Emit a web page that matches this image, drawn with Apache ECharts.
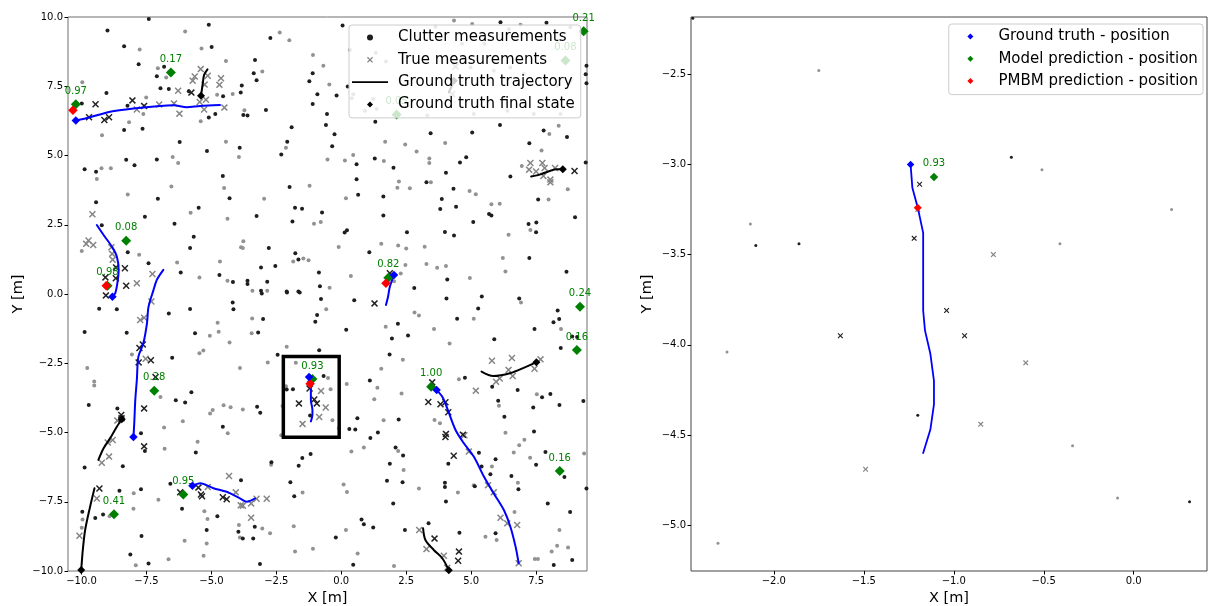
<!DOCTYPE html>
<html>
<head>
<meta charset="utf-8">
<script src="https://cdn.jsdelivr.net/npm/echarts@6/dist/echarts.min.js"></script>
<style>
  html, body { margin: 0; padding: 0; background: #fff; }
  #chart { width: 1208px; height: 606px; }
</style>
</head>
<body>
<div id="chart"></div>
<script>
// ---- tick labels ----
const leftXTicks = [-10, -7.5, -5, -2.5, 0, 2.5, 5, 7.5];
const leftYTicks = [-10, -7.5, -5, -2.5, 0, 2.5, 5, 7.5, 10];
const rightXTicks = [-2, -1.5, -1, -0.5, 0];
const rightYTicks = [-5, -4.5, -4, -3.5, -3, -2.5];

// ---- clutter measurements (dark = recent, light = older) ----
const clutterDark = [
  [-7.41,9.93],[-9.00,9.51],[-5.10,9.72],[-8.36,8.94],[-4.99,8.92],[-7.80,8.29],[-6.82,8.20],[-7.10,7.86],[-9.04,7.26],[-6.96,7.43],
  [-6.64,7.40],[-5.87,7.32],[-4.55,7.14],[-3.87,7.27],[-3.83,7.53],[-9.99,6.88],[-8.23,6.80],[-5.10,6.37],[-4.85,6.50],[-8.36,5.92],
  [-7.65,5.97],[-6.22,5.49],[-3.91,5.28],[-5.17,5.16],[-8.28,4.85],[-7.10,4.86],[-7.96,4.65],[-9.88,4.50],[-9.44,4.41],[-4.56,4.26],
  [-7.06,3.44],[-4.30,3.46],[-9.44,3.31],[-5.49,3.11],[-7.56,2.79],[-6.42,2.54],[-9.22,2.48],[-5.68,2.07],[-5.82,1.66],[-8.22,1.51],
  [-7.42,1.11],[-6.18,0.78],[-4.69,0.69],[-4.17,0.43],
  [0.05,9.69],[-2.73,9.24],[-3.32,8.45],[-3.37,7.97],[-3.26,7.72],[-1.10,7.97],[-1.23,7.68],[-0.92,7.21],[-0.18,7.17],[0.25,7.49],
  [-1.10,6.86],[-2.90,6.64],[-3.77,6.46],[-3.61,6.44],[-0.55,6.50],[-1.91,6.02],[-0.59,6.10],[1.31,6.22],[-0.26,5.77],[-2.08,5.50],
  [-2.31,5.04],[-0.35,5.33],[1.29,4.89],[0.59,4.68],[2.01,4.56],[-1.99,3.86],[0.59,4.14],[0.65,3.58],[1.62,3.52],[-1.78,3.11],
  [-1.51,3.08],[-1.88,2.62],[-0.74,2.94],[-3.26,2.82],[1.62,2.83],[0.13,2.22],[0.22,2.30],[2.53,2.23],[1.08,1.51],[-1.77,1.47],
  [-1.65,1.25],[-2.79,1.66],[-2.54,1.01],[-3.09,0.96],[-3.61,0.48],[-3.61,0.36],[-2.85,0.44],[-3.09,0.12],[-2.10,0.09],[-1.65,0.09],
  [-0.86,0.78],[-0.82,0.28],[2.81,0.22],
  [6.13,9.81],[7.90,9.79],[6.11,6.10],[3.44,5.80],[5.04,5.83],[7.79,5.90],[8.69,5.67],[7.24,5.44],[4.81,4.94],[4.57,4.75],
  [4.03,4.38],[6.51,4.24],[4.32,3.80],[3.28,4.03],[3.87,3.43],[3.81,3.07],[4.42,3.15],[7.58,3.41],[5.69,2.89],[5.78,2.83],
  [9.00,2.77],[5.08,2.60],[7.21,2.53],[7.51,2.58],[7.50,2.23],[3.99,2.24],[4.34,2.11],[7.24,1.30],[4.08,0.52],[8.67,0.80],
  [9.44,8.24],[9.41,7.93],[9.44,7.61],[9.41,4.75],
  [-9.32,-0.53],[-8.64,-0.55],[-9.88,-1.37],[-8.26,-1.40],[-6.64,-0.70],[-5.82,-0.54],[-4.18,-0.31],[-4.15,-0.55],[-5.63,-1.42],[-6.51,-2.30],
  [-5.77,-3.55],[-6.37,-3.84],[-6.01,-3.92],[-8.62,-4.13],[-9.72,-4.01],[-4.56,-4.79],[-7.71,-5.03],[-7.56,-5.67],[-5.60,-5.72],[-9.88,-6.26],
  [-8.41,-6.22],[-7.71,-7.05],[-8.54,-7.10],[-6.58,-6.85],[-6.13,-7.75],[-9.17,-7.96],[-9.47,-8.09],[-9.97,-7.86],[-7.69,-8.74],[-5.18,-8.52],
  [-3.96,-8.58],[-8.12,-9.40],[-7.42,-9.73],[-4.77,-8.02],
  [-3.06,0.02],[-2.09,0.05],[-1.60,0.05],[-0.78,-0.18],[0.50,-0.23],[-3.01,-0.90],[-0.93,-0.76],[-1.00,-1.00],[-3.20,-1.39],[0.19,-1.29],
  [2.18,-1.07],[2.57,-1.50],[1.95,-1.61],[-0.85,-2.03],[1.86,-2.18],[-3.24,-4.07],[-3.12,-4.29],[1.10,-3.12],[0.54,-4.89],[0.62,-4.49],
  [2.21,-4.53],[1.12,-5.20],[1.41,-5.00],[2.09,-5.54],[2.38,-5.83],[1.87,-6.13],[-1.64,-6.20],[-2.69,-6.07],[-3.86,-6.72],[-1.96,-6.80],
  [1.76,-6.74],[2.36,-6.80],[2.00,-7.56],[-1.81,-7.30],[0.78,-8.14],[0.87,-8.31],[1.23,-8.43],[2.45,-8.52],[-0.21,-8.79],[-3.33,-8.40],
  [-3.39,-8.83],[-3.79,-8.83],[-3.13,-9.75],[0.46,-9.77],[-1.50,-5.92],[-1.18,-5.78],
  [4.05,-0.16],[5.41,-0.09],[6.85,-0.16],[5.27,-0.52],[4.46,-0.89],[8.33,-0.60],[8.17,-1.02],[8.39,-0.90],[7.44,-1.26],[5.89,-1.63],
  [8.89,-1.53],[9.08,-1.55],[8.45,-1.95],[4.76,-3.02],[5.81,-3.35],[6.79,-3.47],[8.05,-3.61],[7.73,-3.73],[6.04,-3.85],[7.39,-4.10],
  [8.40,-4.01],[9.32,-3.86],[6.28,-4.43],[7.42,-4.96],[7.86,-5.70],[5.30,-5.73],[5.94,-5.97],[5.40,-6.23],[4.12,-6.13],[6.55,-6.57],
  [5.74,-6.51],[6.82,-7.05],[3.99,-6.81],[3.99,-6.97],[5.14,-6.94],[7.50,-6.16],[8.59,-6.61],[7.95,-7.56],[9.44,-7.02],[8.81,-7.87],
  [8.18,-9.78],[8.89,-9.60],[4.55,-8.62],[5.94,-8.64],[4.03,-7.49],[3.36,-8.28],
  [-2.45,-2.19],[-0.68,-2.96],[-2.10,-3.45],[-1.86,-3.44],[-1.20,-4.39],[0.31,-4.87]
];
const clutterLight = [
  [-6.01,9.48],[-7.76,8.83],[-5.38,8.86],[-4.44,8.41],[-7.06,8.15],[-6.74,7.82],[-9.97,7.64],[-4.78,7.19],[-4.18,7.22],[-7.51,7.09],
  [-7.62,6.50],[-5.41,6.24],[-8.17,6.20],[-9.21,5.73],[-4.44,5.50],[-3.94,4.95],[-6.49,4.95],[-6.28,4.73],[-9.23,4.54],[-8.87,4.54],
  [-9.41,4.15],[-4.51,3.83],[-6.54,3.88],[-8.22,3.59],[-5.80,2.93],[-4.38,2.72],[-9.99,1.55],[-7.78,1.42],[-6.32,1.14],[-4.67,1.17],
  [-3.86,1.69],[-5.46,0.60],[-4.38,0.48],
  [-2.37,9.44],[-2.00,9.16],[-1.09,8.63],[-0.69,8.24],[-3.04,8.03],[-0.46,7.56],[-3.73,6.63],[-2.13,5.28],[1.69,5.50],[2.46,5.40],
  [-0.53,4.86],[0.14,4.82],[0.46,5.02],[1.64,4.80],[-1.22,3.91],[2.22,4.06],[2.16,3.84],[2.64,3.82],[-2.97,3.44],[0.18,3.46],
  [-1.05,2.54],[-0.79,2.60],[-0.10,1.70],[1.54,1.81],[2.19,1.75],[2.50,1.64],[-3.77,1.90],[-3.79,1.66],[-1.85,1.17],[-1.46,1.28],
  [-1.26,1.22],[0.37,0.65],[2.29,0.74],[2.47,1.05],[-3.42,0.12],[-2.85,0.12],[-0.45,0.23],[2.03,0.46],
  [4.34,9.87],[4.00,5.45],[2.90,5.14],[3.39,4.89],[3.39,4.73],[6.95,4.62],[7.71,5.18],[8.01,5.78],[8.37,6.07],[8.72,3.78],
  [4.94,3.72],[5.18,3.60],[5.78,3.24],[6.10,3.26],[7.98,3.41],[3.45,4.03],[6.44,2.14],[7.28,2.31],[3.21,1.71],[3.28,1.08],
  [3.69,0.95],[4.03,1.01],[6.22,1.30],[6.32,0.81],[4.95,0.58],
  [3.63,9.65],[5.04,9.75],[6.45,9.57],[6.90,9.72],[8.82,9.63],[4.65,9.03],[5.51,9.03],[4.98,8.18],[5.87,8.06],[6.51,8.18],
  [7.03,7.94],[8.31,7.52],[8.82,7.70],[3.31,6.44],[5.10,6.50],[6.39,6.62],[7.41,6.50],[8.44,6.50],[0.33,8.81],[1.33,8.71],
  [1.72,8.39],[0.46,7.21],[0.40,7.07],[1.36,6.68],[1.23,7.04],[0.91,6.62],
  [-4.76,-1.04],[-4.72,-1.36],[-4.30,-1.75],[-5.06,-1.51],[-5.46,-2.14],[-5.31,-2.04],[-8.06,-2.18],[-9.78,-2.67],[-9.51,-3.16],[-9.51,-3.30],
  [-6.96,-3.72],[-4.53,-4.02],[-4.26,-4.09],[-4.95,-4.19],[-5.05,-4.31],[-3.90,-2.67],[-6.10,-4.59],[-6.82,-4.82],[-6.80,-5.59],[-5.53,-5.33],
  [-4.37,-5.03],[-7.99,-7.19],[-7.04,-7.43],[-8.00,-7.75],[-5.27,-7.84],[-5.15,-8.12],[-8.92,-8.02],[-6.03,-8.91],[-5.18,-9.01],[-5.30,-9.45],
  [-6.65,-9.58],[-7.91,-9.79],[-3.90,-8.79],[-9.96,-8.14],[-9.99,-8.44],[-3.94,-8.34],
  [-3.43,-0.88],[-0.58,-0.55],[-3.45,-1.42],[-2.10,-1.90],[-2.83,-2.47],[1.71,-1.18],[2.37,-2.37],[1.54,-2.70],[2.32,-3.59],[1.27,-3.80],
  [1.39,-3.38],[1.63,-4.56],[-3.79,-4.17],[0.39,-5.69],[0.87,-5.54],[2.19,-5.67],[2.40,-6.35],[0.09,-6.88],[0.22,-7.15],[-1.49,-7.17],
  [-2.70,-6.16],[-1.83,-8.38],[0.18,-8.52],[-3.04,-8.47],[-2.74,-8.64],[-1.78,-9.30],[-1.09,-9.20],[0.63,-9.37],[2.03,-9.82],[2.82,-0.67],
  [2.99,-0.78],[3.57,-1.26],[4.17,-1.79],[5.10,-0.89],[6.92,-0.31],[8.46,-1.26],[4.53,-3.08],[6.07,-4.03],[7.53,-3.62],[6.32,-5.01],
  [6.64,-5.72],[7.05,-5.26],[6.85,-5.46],[7.27,-5.91],[9.35,-5.76],[5.80,-6.23],[5.10,-6.90],[6.80,-6.81],[2.99,-7.02],[4.49,-7.17],
  [6.67,-7.87],[5.55,-8.76],[5.98,-8.88],[8.31,-9.09],[8.10,-9.30],[8.40,-8.52],[8.73,-9.15],[7.45,-9.57],[7.57,-9.57],[3.59,-4.55],
  [3.80,-4.67],
  [-1.75,-2.48],[-0.51,-3.03],[0.21,-3.25],[-2.13,-3.33],[-0.41,-3.44],[-2.26,-4.04],[-0.34,-4.56],[-0.09,-4.85],[-2.31,-5.10]
];

// ---- target-generated measurements ----
const measDark = [
  [-9.46,6.85],[-9.71,6.38],[-9.12,6.28],[-8.94,6.38],[-8.04,6.99],[-7.59,6.79],[-5.77,7.27],[-8.67,0.96],[-8.33,0.93],[-8.68,0.57],
  [-9.08,0.60],[-8.28,0.30],[-9.06,-0.05],[-7.77,-1.95],[-7.64,-1.82],[-7.80,-2.47],[-7.33,-2.39],[-7.15,-3.00],[-7.59,-4.13],[-7.59,-5.50],
  [-8.47,-4.37],[-8.46,-4.49],[-9.31,-7.02],[-6.20,-7.16],[-5.50,-6.99],[-5.40,-7.24],[-5.36,-7.30],[-4.56,-7.34],[-4.41,-7.41],
  [1.28,-0.34],[1.87,0.75],[3.50,-3.19],[3.35,-3.90],[3.82,-3.98],[4.01,-3.91],[4.12,-4.27],[4.03,-5.05],[4.01,-5.16],[4.33,-5.84],
  [4.68,-5.08],[3.59,-8.83],[4.53,-9.30],[4.50,-9.63],[8.98,4.44],
  [-1.19,-3.11],[-1.22,-3.41],[-1.04,-3.81],[-1.63,-3.95],[-0.94,-3.95]
];
const measLight = [
  [-7.87,6.66],[-7.01,6.84],[-6.44,6.88],[-6.23,6.51],[-6.28,7.34],[-5.72,7.70],[-5.64,7.85],[-5.41,8.12],[-5.26,7.56],[-5.14,7.88],
  [-5.45,6.93],[-5.21,7.01],[-5.28,6.66],[-4.69,7.55],[-4.63,7.79],[-4.50,6.73],[-9.58,2.88],[-9.73,1.93],[-9.55,1.77],[-9.82,1.81],
  [-8.85,1.69],[-8.82,1.45],[-8.80,1.24],[-7.87,0.39],[-7.27,0.72],
  [-7.74,-0.94],[-7.59,-0.86],[-7.31,-0.27],[-7.53,-2.34],[-8.99,-5.36],[-8.80,-5.27],[-8.94,-5.87],[-9.22,-6.09],[-8.62,-4.57],[-4.32,-6.57],
  [-4.06,-7.16],[-5.14,-6.97],[-3.87,-7.63],[-10.08,-8.73],[-9.41,-7.38],
  [-3.26,-7.39],[-2.87,-7.39],[-3.47,-7.56],[-3.79,-7.64],[-3.47,-8.08],
  [7.28,4.73],[7.23,4.49],[7.50,4.42],[7.74,4.73],[7.83,4.55],[7.78,4.26],[8.05,4.13],[8.05,4.03],[8.23,4.55],
  [5.80,-2.41],[6.57,-2.31],[6.44,-2.74],[6.60,-2.96],[5.96,-3.17],[6.10,-3.05],[7.44,-2.70],[7.67,-2.36],[5.18,-3.49],
  [3.00,-8.52],[3.28,-9.21],[3.95,-9.45],[4.08,-9.88],[4.74,-5.10],[4.91,-5.69],[5.65,-6.90],[5.87,-7.16],[6.13,-8.08],[6.39,-8.28],
  [6.77,-8.34],[6.83,-9.72],[4.40,8.21],[4.27,7.22],
  [-0.78,-3.50],[-1.20,-3.25],[-0.60,-4.10],[-0.85,-4.44],[-1.49,-4.69]
];

// ---- ground truth trajectories of undetected targets (black) ----
const truthTracks = [
  [[-5.15,8.11],[-5.28,7.91],[-5.33,7.61],[-5.40,7.16]],
  [[7.31,4.24],[7.67,4.32],[8.05,4.45],[8.31,4.50],[8.53,4.50]],
  [[-9.35,-5.99],[-9.15,-5.57],[-8.90,-5.21],[-8.64,-4.79],[-8.45,-4.52]],
  [[-9.50,-7.01],[-9.67,-7.68],[-9.86,-8.52],[-9.95,-9.24],[-10.01,-9.96]],
  [[5.40,-2.80],[5.85,-2.96],[6.49,-2.86],[7.13,-2.62],[7.51,-2.46]],
  [[3.15,-8.46],[3.24,-8.88],[3.56,-9.24],[3.89,-9.54],[4.14,-9.97]],
  [[4.14,7.28],[4.25,7.50],[4.33,7.70]]
];
const finalStates = [[-5.40,7.16],[8.53,4.50],[-8.45,-4.52],[-10.01,-9.96],[7.51,-2.46],[4.14,-9.97],[4.33,7.70]];

// ---- ground truth paths of predicted targets (blue), current position first ----
const truthPaths = [
  [[-10.22,6.26],[-9.67,6.38],[-8.90,6.58],[-8.00,6.70],[-6.97,6.79],[-6.45,6.81],[-5.95,6.74],[-5.43,6.79],[-4.67,6.82]],
  [[-8.81,-0.10],[-8.70,0.03],[-8.62,0.39],[-8.57,0.87],[-8.64,1.35],[-8.83,1.71],[-9.15,2.13],[-9.41,2.49]],
  [[-8.00,-5.16],[-7.97,-4.67],[-7.93,-3.83],[-7.87,-3.10],[-7.81,-2.26],[-7.62,-1.78],[-7.48,-1.06],[-7.42,-0.46],[-7.23,0.14],[-7.10,0.51],[-6.85,0.87]],
  [[-5.73,-6.92],[-5.43,-6.83],[-4.92,-7.01],[-4.41,-7.14],[-3.90,-7.38],[-3.64,-7.50],[-3.32,-7.38]],
  [[-1.24,-3.00],[-1.23,-3.13],[-1.20,-3.24],[-1.17,-3.38],[-1.17,-3.62],[-1.17,-3.81],[-1.16,-3.92],[-1.13,-4.05],[-1.11,-4.20],[-1.11,-4.33],[-1.13,-4.47],[-1.17,-4.60]],
  [[2.03,0.69],[1.87,0.26],[1.80,-0.10],[1.72,-0.40]],
  [[3.67,-3.47],[3.89,-3.71],[4.08,-4.13],[4.40,-4.91],[4.72,-5.39],[5.10,-5.87],[5.49,-6.59],[5.87,-7.20],[6.26,-7.80],[6.51,-8.40],[6.71,-9.12],[6.83,-9.72]]
];
const truthPos = [[-10.22,6.26],[-8.81,-0.10],[-8.00,-5.16],[-5.73,-6.92],[-1.24,-3.00],[2.03,0.69],[3.67,-3.47]];

// ---- model predictions: x, y, existence probability ----
const modelPred = [
  [-10.22,6.85,0.97],[-6.56,8.00,0.17],[-8.28,1.92,0.08],[-9.00,0.30,0.98],[-7.20,-3.49,0.28],[-8.75,-7.95,0.41],
  [-6.08,-7.24,0.95],[-1.11,-3.07,0.93],[1.81,0.59,0.82],[3.46,-3.35,1.00],[9.19,-0.46,0.24],[9.07,-2.02,0.16],
  [8.41,-6.39,0.16],[9.33,9.49,0.21],[8.63,8.43,0.08],[2.13,6.48,0.05]
];
// ---- PMBM filter predictions ----
const pmbmPred = [[-10.33,6.63],[-9.05,0.30],[-1.20,-3.24],[1.72,0.39]];

// ---- zoomed region outline ----
const boxX = [-2.23, -0.08];
const boxY = [-5.17, -2.26];

const FONT = 'DejaVu Sans';
const X_PATH = 'path://M0,1.5L1.5,0L5,3.5L8.5,0L10,1.5L6.5,5L10,8.5L8.5,10L5,6.5L1.5,10L0,8.5L3.5,5Z';
const DIAMOND_ICON = 'path://M5,0L10,5L5,10L0,5Z';
const DOT_ICON = 'path://M5,0A5,5,0,1,1,4.99,0Z';
const LINE_ICON = 'path://M0,0H36V1.7H0Z';
const fmtTick = v => (v < 0 ? '\u2212' : '') + Math.abs(v).toFixed(1);

function makeX(gi, min, max, ticks, gap) {
  return {
    gridIndex: gi, type: 'value', min, max,
    name: 'X [m]', nameLocation: 'middle', nameGap: gap,
    nameTextStyle: { fontSize: 14.5, color: '#000', fontFamily: FONT },
    axisLine: { show: false, onZero: false },
    splitLine: { show: false },
    axisTick: { show: true, length: 3.5, lineStyle: { color: '#000', width: 1 }, customValues: ticks },
    axisLabel: { customValues: ticks, formatter: fmtTick, fontSize: 10, color: '#000', margin: 5, fontFamily: FONT }
  };
}
function makeY(gi, min, max, ticks, gap) {
  return {
    gridIndex: gi, type: 'value', min, max,
    name: 'Y [m]', nameLocation: 'middle', nameGap: gap, nameRotate: 90,
    nameTextStyle: { fontSize: 14.5, color: '#000', fontFamily: FONT },
    axisLine: { show: false, onZero: false },
    splitLine: { show: false },
    axisTick: { show: true, length: 3.5, lineStyle: { color: '#000', width: 1 }, customValues: ticks },
    axisLabel: { customValues: ticks, formatter: fmtTick, fontSize: 10, color: '#000', margin: 5, fontFamily: FONT }
  };
}

const series = [];
function scatter(gi, name, data, symbol, size, color, z, extra) {
  series.push(Object.assign({
    type: 'scatter', name, data, symbol, symbolSize: size,
    xAxisIndex: gi, yAxisIndex: gi, z, clip: true, silent: true,
    color, itemStyle: { color, opacity: 1 }
  }, extra || {}));
}
function line(gi, name, data, color, width, z, smooth) {
  series.push({
    type: 'line', name, data, xAxisIndex: gi, yAxisIndex: gi, z,
    symbol: 'none', smooth, clip: true, silent: true, color,
    lineStyle: { color, width, cap: 'round', join: 'round' }
  });
}

[0, 1].forEach(gi => {
  const big = gi === 0;
  scatter(gi, 'Clutter measurements', clutterDark, 'circle', big ? 4 : 3, '#1e1e1e', 2);
  scatter(gi, 'Clutter measurements', clutterLight, 'circle', big ? 4 : 3, '#929292', 1);
  scatter(gi, 'True measurements', measLight, X_PATH, big ? 7 : 5.5, '#858585', 3);
  scatter(gi, 'True measurements', measDark, X_PATH, big ? 7 : 5.5, '#222222', 4);
  truthTracks.forEach(t => line(gi, 'Ground truth trajectory', t, '#000', 2, 5, big ? 0.3 : false));
  scatter(gi, 'Ground truth final state', finalStates, 'diamond', 8, '#000', 6);
  truthPaths.forEach(t => line(gi, 'Ground truth path', t, '#0000ff', big ? 2 : 1.8, 7, big ? 0.3 : false));
  scatter(gi, 'Model prediction - position', modelPred, 'diamond', big ? 10 : 8.5, '#008000', 8, {
    clip: false,
    label: {
      show: true, position: 'top', distance: big ? 3 : 4,
      formatter: p => p.value[2].toFixed(2),
      color: '#008000', fontSize: 10, fontFamily: FONT
    }
  });
  scatter(gi, 'PMBM prediction - position', pmbmPred, 'diamond', big ? 9.5 : 8, '#ff0000', 9);
  scatter(gi, 'Ground truth - position', truthPos, 'diamond', big ? 8.5 : 7.5, '#0000ff', 10);
});

// outline of the zoomed area on the left panel
series.push({
  type: 'line', name: 'zoom area', xAxisIndex: 0, yAxisIndex: 0, z: 11, silent: true,
  symbol: 'none', color: '#000',
  data: [[boxX[0], boxY[1]], [boxX[1], boxY[1]], [boxX[1], boxY[0]], [boxX[0], boxY[0]], [boxX[0], boxY[1]]],
  lineStyle: { color: '#000', width: 3.5, join: 'miter', cap: 'square' }
});

const legendBase = {
  orient: 'vertical', selectedMode: false, symbolKeepAspect: true,
  itemWidth: 36, itemHeight: 6, itemGap: 5.3,
  backgroundColor: 'rgba(255,255,255,0.8)', borderColor: '#cccccc', borderWidth: 1, borderRadius: 3,
  textStyle: { fontSize: 15, color: '#000', fontFamily: FONT, lineHeight: 17, padding: [0, 0, 0, 5] },
  z: 20
};

const chart = echarts.init(document.getElementById('chart'), null, { renderer: 'canvas' });
chart.setOption({
  animation: false,
  backgroundColor: '#fff',
  grid: [
    { left: 68, top: 17, width: 519, height: 554, show: true, borderColor: '#6e6e6e', borderWidth: 1, backgroundColor: 'transparent', containLabel: false, outerBoundsMode: 'none' },
    { left: 691, top: 17, width: 516, height: 554, show: true, borderColor: '#444', borderWidth: 1, backgroundColor: 'transparent', containLabel: false, outerBoundsMode: 'none' }
  ],
  xAxis: [makeX(0, -10.52, 9.46, leftXTicks, 19), makeX(1, -2.46, 0.407, rightXTicks, 19)],
  yAxis: [makeY(0, -10, 10, leftYTicks, 42), makeY(1, -5.254, -2.183, rightYTicks, 36)],
  legend: [
    Object.assign({}, legendBase, {
      left: 349, top: 25, padding: [4, 6, 5, 3],
      data: [
        { name: 'Clutter measurements', icon: DOT_ICON },
        { name: 'True measurements', icon: X_PATH },
        { name: 'Ground truth trajectory', icon: LINE_ICON },
        { name: 'Ground truth final state', icon: DIAMOND_ICON }
      ]
    }),
    Object.assign({}, legendBase, {
      right: 5, top: 24, padding: [4, 5, 5, 18.6],
      data: [
        { name: 'Ground truth - position', icon: DIAMOND_ICON },
        { name: 'Model prediction - position', icon: DIAMOND_ICON },
        { name: 'PMBM prediction - position', icon: DIAMOND_ICON }
      ]
    })
  ],
  series
});
</script>
</body>
</html>
